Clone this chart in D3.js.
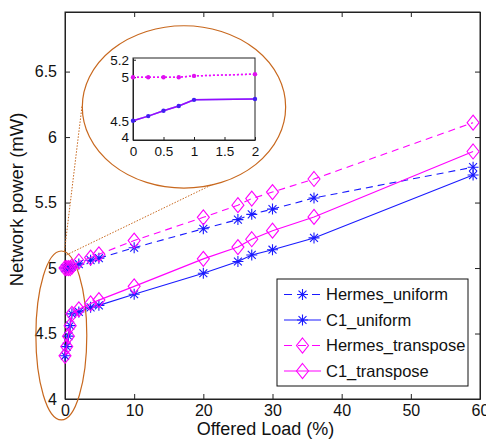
<!DOCTYPE html>
<html>
<head>
<meta charset="utf-8">
<script src="https://cdn.jsdelivr.net/npm/d3@7"></script>
<style>
  body { margin: 0; background: #fff; }
  svg { display: block; font-family: "Liberation Sans", Arial, sans-serif; }
</style>
</head>
<body>
<svg id="chart" width="486" height="439"></svg>
<script>
// offered load (%) for every series
var load = [0, 0.25, 0.5, 0.75, 1, 2, 3.7, 4.9, 10, 20, 25, 27, 30, 36, 59];

// network power (mW)
var hermesUniform   = [5.0, 5.0, 5.0, 5.0, 5.01, 5.03, 5.06, 5.075, 5.155, 5.30, 5.37, 5.41, 5.45, 5.535, 5.77];
var c1Uniform       = [4.33, 4.40, 4.48, 4.56, 4.65, 4.665, 4.70, 4.715, 4.80, 4.96, 5.05, 5.10, 5.14, 5.23, 5.71];
var hermesTranspose = [5.0, 5.0, 5.0, 5.0, 5.01, 5.05, 5.08, 5.105, 5.21, 5.387, 5.48, 5.53, 5.58, 5.68, 6.11];
var c1Transpose     = [4.33, 4.40, 4.48, 4.56, 4.65, 4.685, 4.73, 4.755, 4.86, 5.07, 5.16, 5.22, 5.285, 5.39, 5.89];

var seriesNames = ["Hermes_uniform", "C1_uniform", "Hermes_transpose", "C1_transpose"];

var xTicks = [0, 10, 20, 30, 40, 50, 60];
var yTicks = [4, 4.5, 5, 5.5, 6, 6.5];

// zoomed inset (0..2 %)
var insetLoad   = [0, 0.25, 0.5, 0.75, 1, 2];
var insetHermes = [5.0, 5.0, 5.0, 5.0, 5.015, 5.035];
var insetC1     = [4.5, 4.554, 4.615, 4.67, 4.74, 4.75];
var insetXTicks = [0, 0.5, 1, 1.5, 2];
var insetYTicks = [4.28, 4.5, 5, 5.2];
var insetYLabels = ["4", "4.5", "5", "5.2"];

var svg = d3.select("#chart"),
    margin = {top: 12, right: 6, bottom: 40, left: 65},
    width = +svg.attr("width") - margin.left - margin.right,
    height = +svg.attr("height") - margin.top - margin.bottom,
    g = svg.append("g").attr("transform", "translate(" + margin.left + "," + margin.top + ")");

var x = d3.scaleLinear().domain([0, 60]).range([0, width]);
var y = d3.scaleLinear().domain([4, 6.955]).range([height, 0]);

var blue = "#1a1aff", magenta = "#ff00ff", orange = "#c8681e";
var fmt = function(d) { return String(d); };

// matlab style '*' marker and diamond
function star(r) {
  var d = r * 0.72;
  return "M" + (-r) + ",0H" + r + "M0," + (-r) + "V" + r +
         "M" + (-d) + "," + (-d) + "L" + d + "," + d + "M" + (-d) + "," + d + "L" + d + "," + (-d);
}
function diamond(w, h) {
  return "M0," + (-h) + "L" + w + ",0L0," + h + "L" + (-w) + ",0Z";
}

var series = [
  {name: seriesNames[0], values: hermesUniform, color: blue, dash: "7,5", marker: "star"},
  {name: seriesNames[1], values: c1Uniform, color: blue, dash: null, marker: "star"},
  {name: seriesNames[2], values: hermesTranspose, color: magenta, dash: "7,5", marker: "diamond"},
  {name: seriesNames[3], values: c1Transpose, color: magenta, dash: null, marker: "diamond"}
];

// axes box with inward ticks
g.append("rect").attr("width", width).attr("height", height)
  .attr("fill", "none").attr("stroke", "#222").attr("stroke-width", 1);

var bottomAxis = g.append("g")
  .attr("transform", "translate(0," + height + ")")
  .call(d3.axisBottom(x).tickValues(xTicks).tickSizeInner(-5).tickSizeOuter(0).tickPadding(6).tickFormat(fmt));
var topAxis = g.append("g")
  .call(d3.axisTop(x).tickValues(xTicks).tickSizeInner(-5).tickSizeOuter(0).tickFormat(""));
var leftAxis = g.append("g")
  .call(d3.axisLeft(y).tickValues(yTicks).tickSizeInner(-5).tickSizeOuter(0).tickPadding(8).tickFormat(fmt));
var rightAxis = g.append("g")
  .attr("transform", "translate(" + width + ",0)")
  .call(d3.axisRight(y).tickValues(yTicks).tickSizeInner(-5).tickSizeOuter(0).tickFormat(""));

[bottomAxis, topAxis, leftAxis, rightAxis].forEach(function(a) {
  a.select(".domain").attr("stroke", "#222");
  a.selectAll(".tick line").attr("stroke", "#222");
  a.selectAll("text").attr("font-size", 16).attr("fill", "#111")
    .attr("font-family", "'Liberation Sans', Arial, sans-serif");
});

g.append("text")
  .attr("x", width / 2 - 7)
  .attr("y", height + 36)
  .attr("text-anchor", "middle")
  .attr("font-size", 18)
  .attr("fill", "#111")
  .text("Offered Load (%)");

g.append("text")
  .attr("transform", "translate(-42," + (height / 2 - 6) + ") rotate(-90)")
  .attr("text-anchor", "middle")
  .attr("font-size", 18.5)
  .attr("fill", "#111")
  .text("Network power (mW)");

// zoom annotations (in data units)
g.append("ellipse")
  .attr("cx", x(17.2)).attr("cy", y(6.23))
  .attr("rx", x(14.7) - x(0)).attr("ry", y(4) - y(4.62))
  .attr("fill", "none").attr("stroke", orange).attr("stroke-width", 1.2);
g.append("ellipse")
  .attr("cx", x(-0.53)).attr("cy", y(4.485))
  .attr("rx", x(3.68) - x(0)).attr("ry", y(4) - y(4.645))
  .attr("fill", "none").attr("stroke", orange).attr("stroke-width", 1.2);

var zoomLines = [
  [[2.45, 6.233], [-0.1, 5.12]],
  [[0.2, 5.1], [21.4, 5.64]]
];
g.selectAll(".zoomline")
  .data(zoomLines)
  .enter().append("line")
    .attr("x1", function(d) { return x(d[0][0]); })
    .attr("y1", function(d) { return y(d[0][1]); })
    .attr("x2", function(d) { return x(d[1][0]); })
    .attr("y2", function(d) { return y(d[1][1]); })
    .attr("stroke", orange)
    .attr("stroke-width", 1)
    .attr("stroke-dasharray", "1.5,1.5");

// series lines + markers
var line = d3.line()
  .x(function(d) { return x(d[0]); })
  .y(function(d) { return y(d[1]); });

series.forEach(function(s) {
  var pts = load.map(function(l, i) { return [l, s.values[i]]; });
  g.append("path")
    .datum(pts)
    .attr("fill", "none")
    .attr("stroke", s.color)
    .attr("stroke-width", 1.1)
    .attr("stroke-dasharray", s.dash)
    .attr("d", line);
  g.selectAll(null)
    .data(pts)
    .enter().append("path")
      .attr("transform", function(d) { return "translate(" + x(d[0]) + "," + y(d[1]) + ")"; })
      .attr("d", s.marker == "star" ? star(5.5) : diamond(6, 7.5))
      .attr("fill", "none")
      .attr("stroke", s.color)
      .attr("stroke-width", 1.1);
});

// inset
var inset = {left: 133, top: 58, width: 122, height: 82};
var ig = svg.append("g").attr("transform", "translate(" + inset.left + "," + inset.top + ")");
var ix = d3.scaleLinear().domain([0, 2]).range([0, inset.width]);
var iy = d3.scaleLinear().domain([4.28, 5.22]).range([inset.height, 0]);

ig.append("rect").attr("width", inset.width).attr("height", inset.height)
  .attr("fill", "#fff").attr("stroke", "#222").attr("stroke-width", 1);

var ib = ig.append("g").attr("transform", "translate(0," + inset.height + ")")
  .call(d3.axisBottom(ix).tickValues(insetXTicks).tickSizeInner(-3).tickSizeOuter(0).tickPadding(6).tickFormat(fmt));
var il = ig.append("g")
  .call(d3.axisLeft(iy).tickValues(insetYTicks).tickSizeInner(-3).tickSizeOuter(0).tickPadding(4)
    .tickFormat(function(d, i) { return insetYLabels[i]; }));
[ib, il].forEach(function(a) {
  a.select(".domain").attr("stroke", "#222");
  a.selectAll(".tick line").attr("stroke", "#222");
  a.selectAll("text").attr("font-size", 13.5).attr("fill", "#111")
    .attr("font-family", "'Liberation Sans', Arial, sans-serif");
});
il.selectAll(".tick text").filter(function(d, i) { return i == 0; }).attr("dy", "0.1em");

var iline = d3.line()
  .x(function(d) { return ix(d[0]); })
  .y(function(d) { return iy(d[1]); });

var insetSeries = [
  {values: insetC1, color: blue, dash: null},
  {values: insetC1, color: magenta, dash: null, op: 0.55},
  {values: insetHermes, color: blue, dash: "2,2", op: 0.5},
  {values: insetHermes, color: magenta, dash: "2,2"}
];
insetSeries.forEach(function(s) {
  var pts = insetLoad.map(function(l, i) { return [l, s.values[i]]; });
  ig.append("path")
    .datum(pts)
    .attr("fill", "none")
    .attr("stroke", s.color)
    .attr("stroke-opacity", s.op || 1)
    .attr("stroke-width", 1.5)
    .attr("stroke-dasharray", s.dash)
    .attr("d", iline);
});
[[insetC1, "#4020f0"], [insetHermes, "#e010f0"]].forEach(function(p) {
  ig.selectAll(null)
    .data(insetLoad.map(function(l, i) { return [l, p[0][i]]; }))
    .enter().append("circle")
      .attr("cx", function(d) { return ix(d[0]); })
      .attr("cy", function(d) { return iy(d[1]); })
      .attr("r", 2.2)
      .attr("fill", p[1]);
});

// legend
var lg = svg.append("g").attr("transform", "translate(277,279)");
lg.append("rect").attr("width", 191).attr("height", 107)
  .attr("fill", "#fff").attr("stroke", "#111").attr("stroke-width", 1);
var item = lg.selectAll(".item")
  .data(series)
  .enter().append("g")
    .attr("transform", function(d, i) { return "translate(0," + (15.5 + i * 25.5) + ")"; });
item.append("line")
  .attr("x1", 7).attr("x2", 44)
  .attr("stroke", function(d) { return d.color; })
  .attr("stroke-width", 1.1)
  .attr("stroke-dasharray", function(d) { return d.dash ? "8,6" : null; });
item.append("path")
  .attr("transform", "translate(25.5,0)")
  .attr("d", function(d) { return d.marker == "star" ? star(5.5) : diamond(6, 7.5); })
  .attr("fill", "none")
  .attr("stroke", function(d) { return d.color; })
  .attr("stroke-width", 1.1);
item.append("text")
  .attr("x", 49)
  .attr("dy", "0.35em")
  .attr("font-size", 16.5)
  .attr("fill", "#111")
  .text(function(d) { return d.name; });
</script>
</body>
</html>
